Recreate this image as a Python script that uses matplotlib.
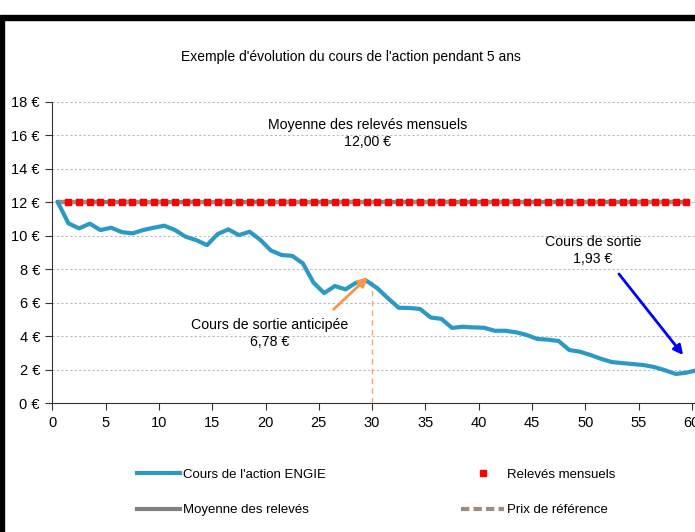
import numpy as np
import matplotlib
matplotlib.use("Agg")
import matplotlib.pyplot as plt
from matplotlib.patches import Rectangle

plt.rcParams['font.family'] = ['Liberation Sans', 'DejaVu Sans']

# monthly ENGIE share price (x = month index, points sit in the middle of each month)
mois = np.arange(61) + 0.5
cours = [12.0, 10.74, 10.44, 10.72, 10.34, 10.48, 10.22, 10.14, 10.34, 10.48,
         10.6, 10.34, 9.94, 9.74, 9.44, 10.1, 10.38, 10.04, 10.24, 9.76,
         9.12, 8.85, 8.8, 8.35, 7.2, 6.58, 7.0, 6.8, 7.2, 7.3,
         6.86, 6.26, 5.7, 5.69, 5.63, 5.12, 5.04, 4.5, 4.57, 4.53,
         4.51, 4.33, 4.33, 4.24, 4.08, 3.84, 3.8, 3.72, 3.18, 3.08,
         2.88, 2.65, 2.46, 2.4, 2.34, 2.28, 2.16, 1.97, 1.75, 1.83, 1.98]

releves_x = np.arange(1, 60) + 0.5
releves = [12.0] * 59
moyenne = 12.0
prix_ref = 12.0
sortie_anticipee_x = 30
sortie_anticipee = 6.78
sortie = 1.93

yticks = [0, 2, 4, 6, 8, 10, 12, 14, 16, 18]
xticks = [0, 5, 10, 15, 20, 25, 30, 35, 40, 45, 50, 55, 60]

fig = plt.figure(figsize=(6.95, 5.32), dpi=100)
ax = fig.add_axes([0.0755, 0.2419, 0.9245, 0.5669])

# frame drawn around the original chart (top and left edges only visible)
fig.add_artist(Rectangle((0, 0), 0.0063, 0.970, transform=fig.transFigure,
                         color='black', zorder=10))
fig.add_artist(Rectangle((0, 0.963), 1, 0.008, transform=fig.transFigure,
                         color='black', zorder=10))

ax.plot(mois, cours, color='#2A9AC5', lw=3, solid_joinstyle='round',
        label="Cours de l'action ENGIE", zorder=3)
ax.plot([0.5, 59.5], [moyenne, moyenne], color='#808080', lw=3,
        label="Moyenne des relevés", zorder=2)
ax.plot([0.5, 59.5], [prix_ref, prix_ref], color='#A08C7D', lw=3,
        ls=(0, (2, 1)), label="Prix de référence", zorder=2)
ax.plot(releves_x, releves, ls='none', marker='s', ms=4.5, color='#FF0000',
        mec='#FF0000', label="Relevés mensuels", zorder=4)

ax.plot([sortie_anticipee_x, sortie_anticipee_x], [0, 7.4], color='#F8A66B',
        lw=1, ls=(0, (4, 3)), zorder=2)

ax.annotate('', xy=(29.8, 7.65), xytext=(26.2, 5.5),
            arrowprops=dict(arrowstyle='-|>', color='#F79646', lw=2,
                            mutation_scale=14))
ax.annotate('', xy=(59.35, 2.75), xytext=(53.0, 7.85),
            arrowprops=dict(arrowstyle='-|>', color='#0000FF', lw=2,
                            mutation_scale=14))

ax.text(29.6, 16.1, "Moyenne des relevés mensuels\n{:.2f} €".format(moyenne).replace('.', ','),
        ha='center', va='center', fontsize=10.2, linespacing=1.3)
ax.text(20.4, 4.15, "Cours de sortie anticipée\n{:.2f} €".format(sortie_anticipee).replace('.', ','),
        ha='center', va='center', fontsize=10.2, linespacing=1.3)
ax.text(50.7, 9.12, "Cours de sortie\n{:.2f} €".format(sortie).replace('.', ','),
        ha='center', va='center', fontsize=10.2, linespacing=1.3)

fig.text(0.505, 0.892, "Exemple d'évolution du cours de l'action pendant 5 ans",
         ha='center', va='center', fontsize=10)

ax.set_xlim(0, 60.3)
ax.set_ylim(0, 18)
ax.set_xticks(xticks)
ax.set_yticks(yticks)
ax.set_yticklabels(["{} €".format(v) for v in yticks])
ax.tick_params(labelsize=10.5, length=5, color='#333333', pad=4)
ax.grid(axis='y', color='#BBBBBB', ls=(0, (2, 2)), lw=0.8)
ax.set_axisbelow(True)
for s in ['top', 'right']:
    ax.spines[s].set_visible(False)
for s in ['left', 'bottom']:
    ax.spines[s].set_color('#333333')

h, l = ax.get_legend_handles_labels()
order = [0, 1, 3, 2]
leg = ax.legend([h[i] for i in order], [l[i] for i in order], ncol=2,
                loc='upper left', bbox_to_anchor=(0.113, -0.177), frameon=False,
                fontsize=9.5, handlelength=3.26, handletextpad=0.2,
                labelspacing=1.75, columnspacing=10.3)

fig.savefig('out.png', dpi=100)
